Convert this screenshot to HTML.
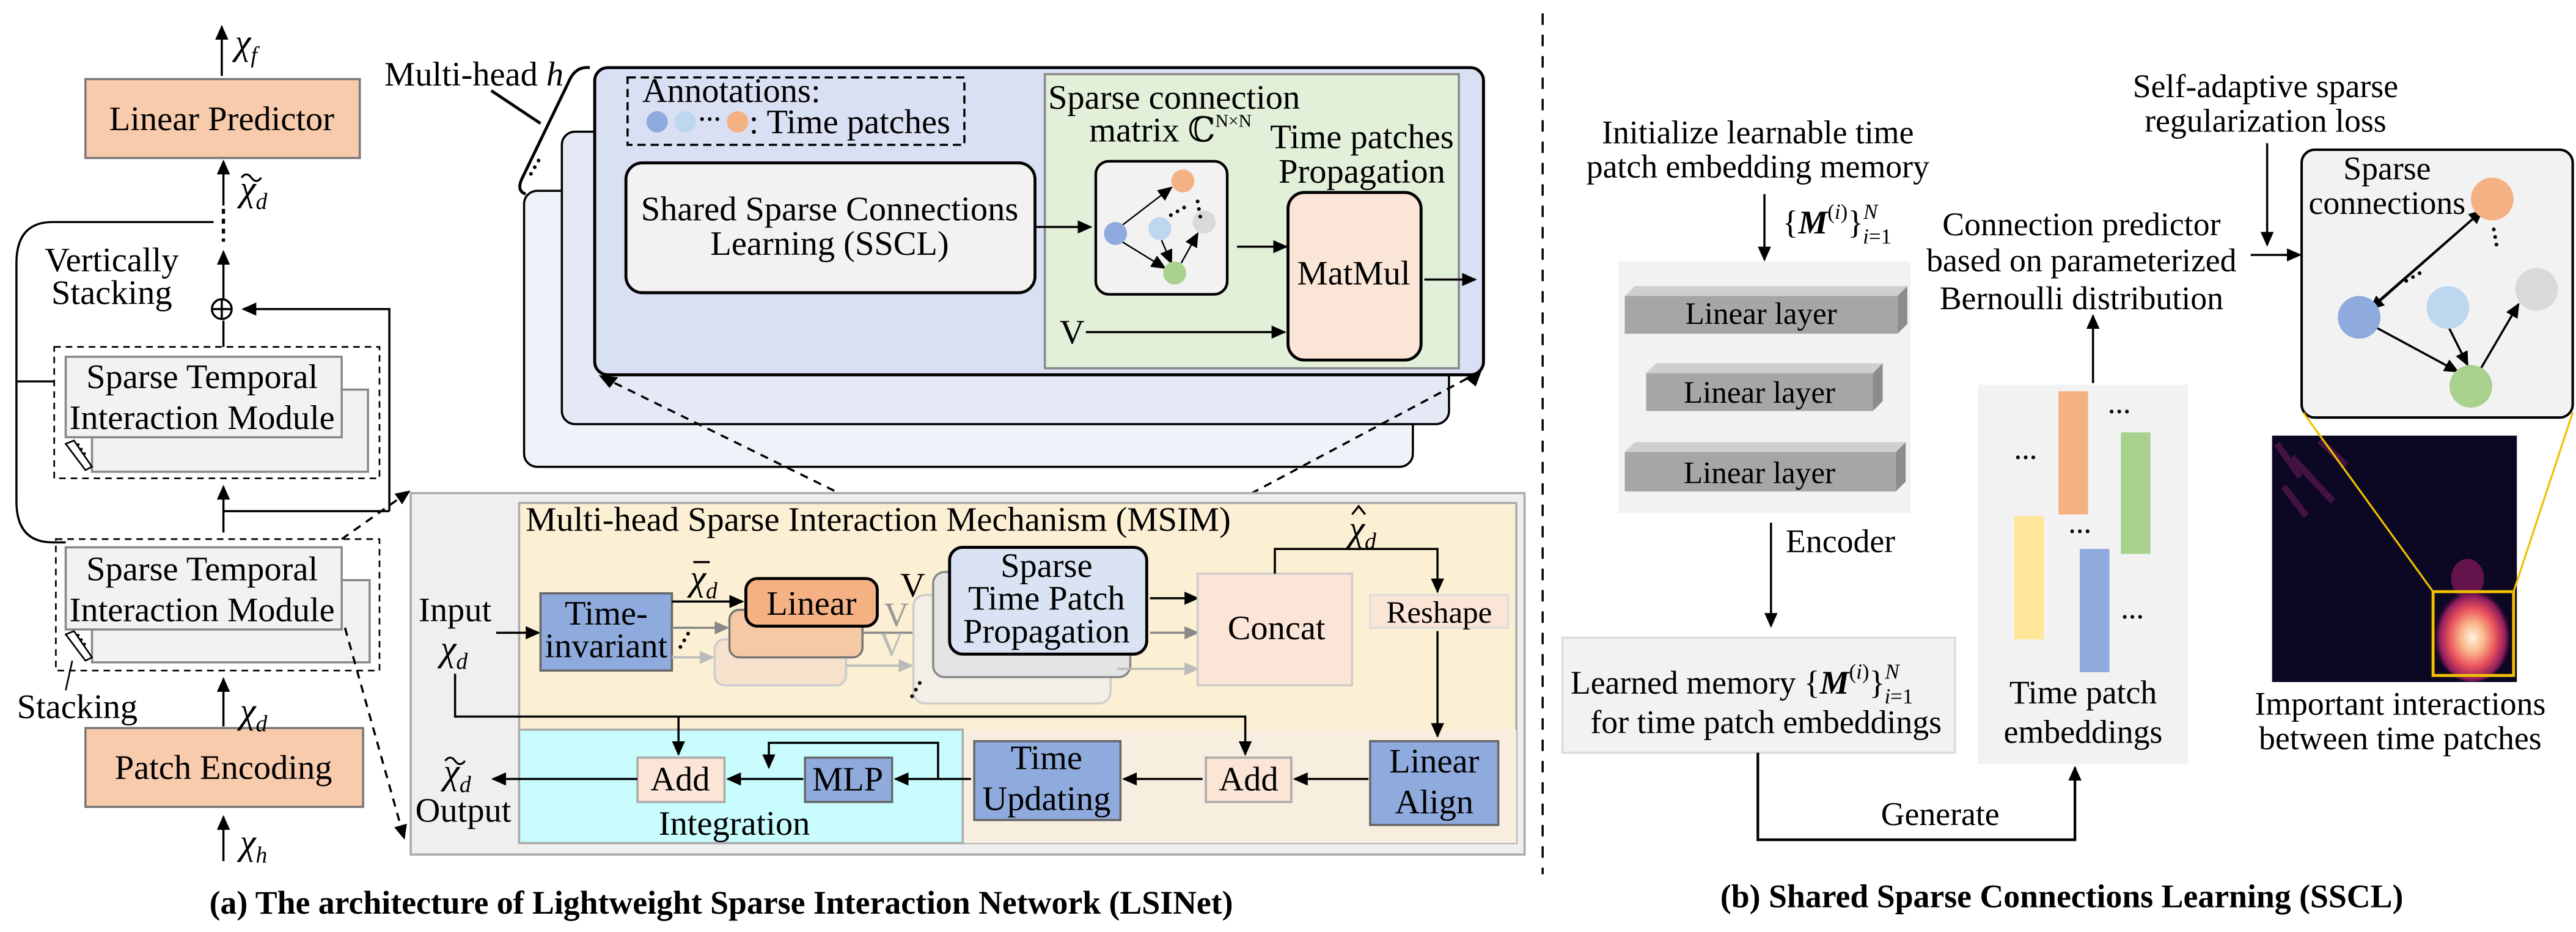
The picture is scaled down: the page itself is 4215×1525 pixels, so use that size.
<!DOCTYPE html>
<html><head><meta charset="utf-8">
<style>
html,body{margin:0;padding:0;background:#fff;}
svg{display:block;}
svg text{font-family:"Liberation Serif","DejaVu Serif",serif;}
</style></head>
<body>
<svg width="4215" height="1525" viewBox="0 0 1568 567" xmlns="http://www.w3.org/2000/svg" font-family="Liberation Serif, DejaVu Serif, serif" style="font-family:'Liberation Serif','DejaVu Serif',serif">
<defs>
<marker id="a" markerUnits="userSpaceOnUse" markerWidth="9" markerHeight="8" refX="8" refY="4" orient="auto"><path d="M0,0 L9,4 L0,8 z" fill="#000"/></marker>
<marker id="g" markerUnits="userSpaceOnUse" markerWidth="9" markerHeight="8" refX="8" refY="4" orient="auto"><path d="M0,0 L9,4 L0,8 z" fill="#888"/></marker>
<marker id="gl" markerUnits="userSpaceOnUse" markerWidth="9" markerHeight="8" refX="8" refY="4" orient="auto"><path d="M0,0 L9,4 L0,8 z" fill="#bbb"/></marker>
<radialGradient id="hot" cx="0.5" cy="0.55" r="0.5">
<stop offset="0" stop-color="#fff6e0"/><stop offset="0.3" stop-color="#fbb58a"/><stop offset="0.6" stop-color="#e8505b"/><stop offset="0.85" stop-color="#8a1a5c"/><stop offset="1" stop-color="#0c0722" stop-opacity="0"/>
</radialGradient>
</defs>
<g stroke="#000" stroke-width="1.3" fill="none">
<line x1="135" y1="46" x2="135" y2="16" marker-end="url(#a)"/>
<rect x="52" y="48" width="167" height="48" fill="#f8cbad" stroke="#777"/>
<line x1="136" y1="125" x2="136" y2="98" marker-end="url(#a)"/>
<line x1="136" y1="127" x2="136" y2="147" stroke-dasharray="3,3" stroke-width="2"/>
<line x1="136" y1="182" x2="136" y2="153" marker-end="url(#a)"/>
<circle cx="135" cy="188" r="6" fill="#fff"/>
<line x1="129" y1="188" x2="141" y2="188"/><line x1="135" y1="182" x2="135" y2="194"/>
<path d="M130,135 H32 Q10,135 10,160 V305 Q10,330 32,330 H40"/>
<line x1="10" y1="232" x2="33" y2="232"/>
<line x1="136" y1="211" x2="136" y2="195"/>
<path d="M237,311 V188 H148" marker-end="url(#a)"/>
<line x1="136" y1="311" x2="237" y2="311"/>
<line x1="136" y1="324" x2="136" y2="296" marker-end="url(#a)"/>
<rect x="33" y="211" width="198" height="80" stroke-dasharray="4,3" stroke-width="1"/>
<rect x="56" y="237" width="168" height="50" fill="#f2f2f2" stroke="#888"/>
<rect x="40" y="217" width="168" height="49" fill="#f2f2f2" stroke="#888"/>
<path d="M40,270 L52,286 L56,284 L45,268 z" fill="#fff" stroke-width="1"/>
<rect x="34" y="328" width="197" height="80" stroke-dasharray="4,3" stroke-width="1"/>
<rect x="56" y="353" width="169" height="50" fill="#f2f2f2" stroke="#888"/>
<rect x="40" y="333" width="168" height="50" fill="#f2f2f2" stroke="#888"/>
<path d="M40,386 L52,402 L56,400 L45,384 z" fill="#fff" stroke-width="1"/>
<line x1="44" y1="402" x2="40" y2="420" stroke-width="1"/>
<line x1="136" y1="442" x2="136" y2="413" marker-end="url(#a)"/>
<rect x="52" y="443" width="169" height="48" fill="#f8cbad" stroke="#777"/>
<line x1="136" y1="524" x2="136" y2="497" marker-end="url(#a)"/>
<line x1="208" y1="328" x2="249" y2="299" stroke-dasharray="5,4" marker-end="url(#a)"/>
<line x1="210" y1="382" x2="246" y2="510" stroke-dasharray="5,4" marker-end="url(#a)"/>

<rect x="319" y="116" width="541" height="168" rx="8" fill="#f0f2fa"/>
<rect x="342" y="80" width="540" height="178" rx="8" fill="#e5e9f6"/>
<rect x="362" y="41" width="541" height="187" rx="8" fill="#dae0f3" stroke-width="1.8"/>
<path d="M359,41 Q350,40 346,50 L318,108 Q314,116 320,118" stroke-width="1.8"/>
<line x1="299" y1="55" x2="329" y2="75" stroke-width="1.8"/>
<rect x="382" y="47" width="205" height="41" stroke-dasharray="5,3"/>
<rect x="381" y="99" width="249" height="79" rx="10" fill="#f2f2f2" stroke-width="1.8"/>
<rect x="636" y="45" width="252" height="179" fill="#e2efd9" stroke="#888"/>
<rect x="667" y="98" width="80" height="81" rx="8" fill="#f2f2f2" stroke-width="1.6"/>
<line x1="630" y1="138" x2="664" y2="138" marker-end="url(#a)"/>
<line x1="753" y1="150" x2="783" y2="150" marker-end="url(#a)"/>
<rect x="784" y="117" width="81" height="102" rx="10" fill="#fbe5d6" stroke-width="1.8"/>
<line x1="867" y1="170" x2="898" y2="170" marker-end="url(#a)"/>
<line x1="661" y1="202" x2="782" y2="202" marker-end="url(#a)"/>
<g stroke-width="0.9">
<line x1="683" y1="137" x2="713" y2="114" marker-end="url(#a)"/>
<line x1="683" y1="147" x2="709" y2="163" marker-end="url(#a)"/>
<line x1="707" y1="146" x2="713" y2="160" marker-end="url(#a)"/>
<line x1="719" y1="160" x2="729" y2="142" marker-end="url(#a)"/>
</g>
<line x1="366" y1="229" x2="578" y2="333" stroke-dasharray="5,4"/>
<path d="M366,229 l9,1 l-4,5 z" fill="#000"/>
<line x1="901" y1="226" x2="700" y2="333" stroke-dasharray="5,4"/>
<path d="M901,226 l-3,8 l-5,-4 z" fill="#000"/>

<rect x="250" y="300" width="678" height="220" fill="#efefef" stroke="#aaa"/>
<rect x="316" y="306" width="607" height="207" fill="#fcf0d4" stroke="#aaa"/>
<rect x="586" y="444" width="337" height="69" fill="#f8eee0" stroke="none"/>
<rect x="316" y="444" width="270" height="69" fill="#c9fcfd" stroke="#aaa"/>
<line x1="302" y1="385" x2="328" y2="385" marker-end="url(#a)"/>
<rect x="329" y="361" width="80" height="47" fill="#8faadc" stroke="#666"/>
<line x1="409" y1="366" x2="452" y2="366" marker-end="url(#a)"/>
<line x1="409" y1="382" x2="443" y2="382" stroke="#888" marker-end="url(#g)"/>
<line x1="409" y1="400" x2="434" y2="400" stroke="#bbb" marker-end="url(#gl)"/>
<rect x="435" y="389" width="80" height="28" rx="6" fill="#f8e1cc" stroke="#ccc"/>
<rect x="444" y="371" width="81" height="29" rx="6" fill="#f5c9a6" stroke="#777"/>
<rect x="454" y="352" width="80" height="29" rx="7" fill="#f4b183" stroke-width="1.8"/>
<line x1="525" y1="385" x2="567" y2="385" stroke="#888" marker-end="url(#g)"/>
<line x1="515" y1="405" x2="555" y2="405" stroke="#bbb" marker-end="url(#gl)"/>
<rect x="556" y="362" width="120" height="66" rx="7" fill="#f3efe6" stroke="#ccc"/>
<rect x="568" y="348" width="120" height="64" rx="7" fill="#e4e4e4" stroke="#888"/>
<rect x="578" y="333" width="120" height="65" rx="8" fill="#dae3f3" stroke-width="1.8"/>
<line x1="700" y1="364" x2="729" y2="364" marker-end="url(#a)"/>
<line x1="700" y1="385" x2="729" y2="385" stroke="#888" marker-end="url(#g)"/>
<line x1="680" y1="407" x2="729" y2="407" stroke="#bbb" marker-end="url(#gl)"/>
<rect x="729" y="349" width="94" height="68" fill="#fbe5d6" stroke="#ccc"/>
<path d="M776,349 V334 H875 V360" marker-end="url(#a)"/>
<rect x="834" y="362" width="84" height="20" fill="#fbe5d6" stroke="#ddd"/>
<line x1="875" y1="384" x2="875" y2="448" marker-end="url(#a)"/>
<rect x="834" y="451" width="78" height="51" fill="#8faadc" stroke="#666"/>
<line x1="833" y1="474" x2="788" y2="474" marker-end="url(#a)"/>
<rect x="734" y="461" width="52" height="27" fill="#fbe5d6" stroke="#aaa"/>
<path d="M277,410 V436 H758 V459" marker-end="url(#a)"/>
<line x1="413" y1="436" x2="413" y2="459" marker-end="url(#a)"/>
<line x1="732" y1="474" x2="684" y2="474" marker-end="url(#a)"/>
<rect x="593" y="451" width="89" height="48" fill="#8faadc" stroke="#666"/>
<line x1="591" y1="474" x2="545" y2="474" marker-end="url(#a)"/>
<path d="M571,474 V452 H468 V467" marker-end="url(#a)"/>
<rect x="490" y="461" width="53" height="27" fill="#8faadc" stroke="#666"/>
<line x1="489" y1="474" x2="443" y2="474" marker-end="url(#a)"/>
<rect x="388" y="461" width="53" height="27" fill="#fbe5d6" stroke="#aaa"/>
<line x1="388" y1="474" x2="300" y2="474" marker-end="url(#a)"/>

<line x1="939" y1="8" x2="939" y2="532" stroke-dasharray="7,6"/>

<line x1="1074" y1="118" x2="1074" y2="158" marker-end="url(#a)"/>
<rect x="985" y="159" width="178" height="153" fill="#f2f2f2" stroke="none"/>
<line x1="1078" y1="318" x2="1078" y2="381" marker-end="url(#a)"/>
<rect x="951" y="388" width="239" height="70" fill="#f2f2f2" stroke="#ddd"/>
<path d="M1070,458 V511 H1263 V467" marker-end="url(#a)" stroke-width="1.6"/>
<rect x="1204" y="234" width="128" height="231" fill="#f2f2f2" stroke="none"/>
<line x1="1274" y1="233" x2="1274" y2="192" marker-end="url(#a)"/>
<line x1="1380" y1="87" x2="1380" y2="149" marker-end="url(#a)"/>
<line x1="1370" y1="155" x2="1400" y2="155" marker-end="url(#a)"/>
<rect x="1401" y="91" width="165" height="163" rx="8" fill="#f2f2f2" stroke-width="1.5"/>
<line x1="1441" y1="189" x2="1511" y2="128" marker-end="url(#a)"/>
<line x1="1511" y1="128" x2="1443" y2="188" marker-end="url(#a)"/>
<line x1="1446" y1="199" x2="1496" y2="226" marker-end="url(#a)"/>
<line x1="1490" y1="198" x2="1502" y2="222" marker-end="url(#a)"/>
<line x1="1509" y1="226" x2="1533" y2="185" marker-end="url(#a)"/>

<!-- diacritics -->
<path d="M147,108 q3,-4 6,0 t6,0" stroke-width="1.2"/>
<path d="M271,463 q3,-4 6,0 t6,0" stroke-width="1.2"/>
<line x1="422" y1="342" x2="432" y2="342" stroke-width="1.3"/>
<path d="M823,313 l4,-5 l4,5" stroke-width="1.2"/>
</g>

<g stroke="none">
<polygon points="989,180 995,174 1161,174 1155,180" fill="#cfcfcf"/><polygon points="1155,180 1161,174 1161,197 1155,203" fill="#8c8c8c"/><rect x="989" y="180" width="166" height="23" fill="#a6a6a6"/>
<polygon points="1002,227 1008,221 1146,221 1140,227" fill="#cfcfcf"/><polygon points="1140,227 1146,221 1146,244 1140,250" fill="#8c8c8c"/><rect x="1002" y="227" width="138" height="23" fill="#a6a6a6"/>
<polygon points="989,275 995,269 1160,269 1154,275" fill="#cfcfcf"/><polygon points="1154,275 1160,269 1160,293 1154,299" fill="#8c8c8c"/><rect x="989" y="275" width="165" height="24" fill="#a6a6a6"/>
<rect x="1253" y="238" width="18" height="75" fill="#f4b183"/>
<rect x="1291" y="263" width="18" height="74" fill="#a9d18e"/>
<rect x="1226" y="314" width="18" height="75" fill="#ffe699"/>
<rect x="1266" y="334" width="18" height="75" fill="#8faadc"/>
<rect x="1383" y="265" width="149" height="150" fill="#0c0722"/>
<g stroke="#5a1850" stroke-width="4" opacity="0.7">
<line x1="1386" y1="270" x2="1400" y2="290"/><line x1="1395" y1="278" x2="1420" y2="305"/><line x1="1412" y1="268" x2="1428" y2="283"/><line x1="1390" y1="296" x2="1404" y2="314"/>
</g>
<ellipse cx="1502" cy="352" rx="10" ry="12" fill="#8a1a5c" opacity="0.7"/>
<ellipse cx="1505" cy="385" rx="24" ry="30" fill="url(#hot)"/>
<circle cx="400" cy="74" r="6.5" fill="#8faadc"/><circle cx="417" cy="74" r="6.5" fill="#bdd7ee"/><circle cx="449" cy="74" r="6.5" fill="#f4b183"/>
<circle cx="720" cy="110" r="7" fill="#f4b183"/><circle cx="733" cy="135" r="7" fill="#d9d9d9"/><circle cx="706" cy="139" r="7" fill="#bdd7ee"/><circle cx="679" cy="142" r="7" fill="#8faadc"/><circle cx="715" cy="166" r="7" fill="#a9d18e"/>
<circle cx="1517" cy="121" r="13" fill="#f4b183"/><circle cx="1544" cy="176" r="13" fill="#d9d9d9"/><circle cx="1490" cy="187" r="13" fill="#bdd7ee"/><circle cx="1436" cy="193" r="13" fill="#8faadc"/><circle cx="1504" cy="235" r="13" fill="#a9d18e"/>
</g>
<g fill="none" stroke="#f0c000" stroke-width="1.2">
<rect x="1481" y="360" width="49" height="51" stroke-width="1.8"/>
<line x1="1481" y1="360" x2="1402" y2="251"/><line x1="1530" y1="360" x2="1566" y2="251"/>
</g>
<g fill="#000" font-size="14" font-weight="bold">
<text x="425" y="77">···</text>
<text x="1283" y="255">···</text><text x="1226" y="283">···</text><text x="1259" y="328">···</text><text x="1291" y="380">···</text>
<text x="1465" y="176" transform="rotate(-30 1465 176)">···</text>
<text x="1513" y="138" transform="rotate(80 1513 138)">···</text>
<text x="724" y="121" transform="rotate(80 724 121)">···</text>
<text x="713" y="136" transform="rotate(-30 713 136)">···</text>
<text x="326" y="110" transform="rotate(-60 326 110)">···</text>
<text x="417" y="398" transform="rotate(-60 417 398)">···</text>
<text x="558" y="428" transform="rotate(-60 558 428)">···</text>
<text x="44" y="271" transform="rotate(55 44 271)" font-size="10">···</text>
<text x="44" y="387" transform="rotate(55 44 387)" font-size="10">···</text>
</g>

<g font-size="21" text-anchor="middle">
<text x="135" y="79">Linear Predictor</text>
<text x="68" y="165">Vertically</text><text x="68" y="185">Stacking</text>
<text x="123" y="236">Sparse Temporal</text><text x="123" y="261">Interaction Module</text>
<text x="123" y="353">Sparse Temporal</text><text x="123" y="378">Interaction Module</text>
<text x="47" y="437">Stacking</text>
<text x="136" y="474">Patch Encoding</text>
<text x="505" y="134">Shared Sparse Connections</text><text x="505" y="155">Learning (SSCL)</text>
<text x="829" y="90">Time patches</text><text x="829" y="111">Propagation</text>
<text x="824" y="173">MatMul</text>
<text x="369" y="380">Time-</text><text x="369" y="400">invariant</text>
<text x="494" y="374">Linear</text>
<text x="637" y="351">Sparse</text><text x="637" y="371">Time Patch</text><text x="637" y="391">Propagation</text>
<text x="777" y="389">Concat</text>
<text x="876" y="379" font-size="19">Reshape</text>
<text x="873" y="470">Linear</text><text x="873" y="495">Align</text>
<text x="760" y="481">Add</text>
<text x="637" y="468">Time</text><text x="637" y="493">Updating</text>
<text x="516" y="481">MLP</text>
<text x="414" y="481">Add</text>
<text x="447" y="508">Integration</text>
<text x="277" y="378">Input</text>
<text x="282" y="500">Output</text>
</g>
<g font-size="21">
<text x="234" y="52">Multi-head <tspan font-style="italic">h</tspan></text>
<text x="391" y="62">Annotations:</text>
<text x="456" y="81">: Time patches</text>
<text x="638" y="66">Sparse connection</text>
<text x="663" y="86">matrix ℂ<tspan font-size="11" dy="-9">N×N</tspan></text>
<text x="645" y="209">V</text>
<text x="320" y="323">Multi-head Sparse Interaction Mechanism (MSIM)</text>
<text x="548" y="363">V</text>
<text x="538" y="381" fill="#999">V</text>
<text x="535" y="399" fill="#bbb">V</text>
</g>
<g font-size="22" font-style="italic">
<text x="143" y="33">χ<tspan font-size="14" dy="5">f</tspan></text>
<text x="146" y="122">χ<tspan font-size="14" dy="5">d</tspan></text>
<text x="146" y="440">χ<tspan font-size="14" dy="5">d</tspan></text>
<text x="146" y="520">χ<tspan font-size="14" dy="5">h</tspan></text>
<text x="420" y="359">χ<tspan font-size="14" dy="5">d</tspan></text>
<text x="821" y="329">χ<tspan font-size="14" dy="5">d</tspan></text>
<text x="268" y="402">χ<tspan font-size="14" dy="5">d</tspan></text>
<text x="270" y="477">χ<tspan font-size="14" dy="5">d</tspan></text>
</g>
<g font-size="20" text-anchor="middle">
<text x="1070" y="87">Initialize learnable time</text><text x="1070" y="108">patch embedding memory</text>
<text x="1072" y="197" font-size="19">Linear layer</text>
<text x="1071" y="245" font-size="19">Linear layer</text>
<text x="1071" y="294" font-size="19">Linear layer</text>
<text x="1268" y="428">Time patch</text><text x="1268" y="452">embeddings</text>
<text x="1267" y="143">Connection predictor</text><text x="1267" y="165">based on parameterized</text><text x="1267" y="188">Bernoulli distribution</text>
<text x="1379" y="59">Self-adaptive sparse</text><text x="1379" y="80">regularization loss</text>
<text x="1453" y="109">Sparse</text><text x="1453" y="130">connections</text>
<text x="1461" y="435">Important interactions</text><text x="1461" y="456">between time patches</text>
<text x="1181" y="502">Generate</text>
<text x="1075" y="446">for time patch embeddings</text>
</g>
<g font-size="20">
<text x="1087" y="336">Encoder</text>
<text x="956" y="422">Learned memory {<tspan font-style="italic" font-weight="bold">M</tspan><tspan font-size="13" dy="-9">(<tspan font-style="italic">i</tspan>)</tspan><tspan dy="9">}</tspan><tspan font-size="13" dy="-9" font-style="italic">N</tspan><tspan font-size="13" dx="-9" dy="15"><tspan font-style="italic">i</tspan>=1</tspan></text>
<text x="1085" y="142">{<tspan font-style="italic" font-weight="bold">M</tspan><tspan font-size="13" dy="-9">(<tspan font-style="italic">i</tspan>)</tspan><tspan dy="9">}</tspan><tspan font-size="13" dy="-9" font-style="italic">N</tspan><tspan font-size="13" dx="-9" dy="15"><tspan font-style="italic">i</tspan>=1</tspan></text>
</g>
<g font-size="20" font-weight="bold" text-anchor="middle">
<text x="439" y="556">(a) The architecture of Lightweight Sparse Interaction Network (LSINet)</text>
<text x="1255" y="552">(b) Shared Sparse Connections Learning (SSCL)</text>
</g>
</svg>
</body></html>
